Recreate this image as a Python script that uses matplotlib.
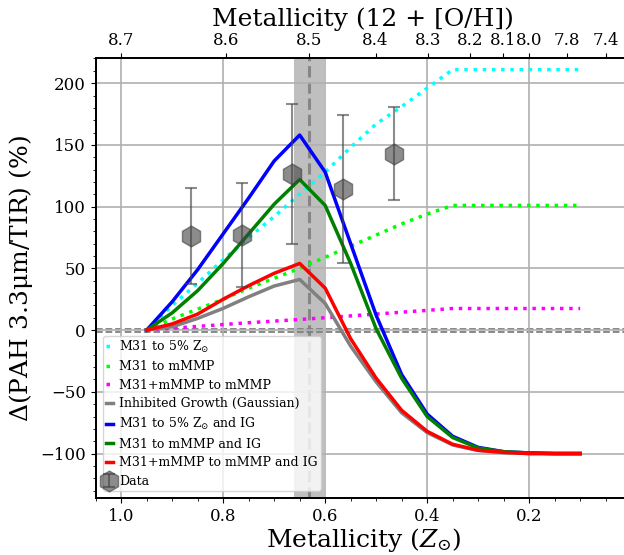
import numpy as np
import matplotlib
matplotlib.use('Agg')
import matplotlib.pyplot as plt
from matplotlib.ticker import MultipleLocator

plt.rcParams['font.family'] = ['DejaVu Serif']
plt.rcParams['mathtext.fontset'] = 'dejavuserif'

# model grid (Z / Z_sun)
z = [0.95, 0.9, 0.85, 0.8, 0.75, 0.7, 0.65, 0.6, 0.55, 0.5, 0.45, 0.4, 0.35,
     0.3, 0.25, 0.2, 0.15, 0.1]

m31_5pct = [0, 20, 38, 57, 75, 92, 110, 128, 148, 167, 181, 196, 211,
            211, 211, 211, 211, 211]
m31_mmmp = [0, 9, 17, 25, 34, 42, 50, 59, 68, 77, 86, 94, 101,
            101, 101, 101, 101, 101]
m31mmmp_mmmp = [0, 1.5, 3, 4.5, 6, 7.3, 8.6, 10, 11.5, 13, 14.5, 16, 17.5,
                17.5, 17.5, 17.5, 17.5, 17.5]
inhibited = [0, 2.7, 9.5, 17.6, 27, 35.7, 41, 21.6, -13, -42, -67, -83, -93,
             -97.5, -99.3, -100, -100, -100]
m31_5pct_ig = [0, 23, 49, 78, 107, 137, 158, 128, 70, 12, -36, -68, -86,
               -95, -98.5, -99.5, -100, -100]
m31_mmmp_ig = [0, 14, 32, 54, 78, 102, 122, 101, 54, 1, -39, -70, -87,
               -95.5, -98.5, -99.5, -100, -100]
m31mmmp_mmmp_ig = [0, 5, 13, 25, 36, 46, 54, 34, -7, -39, -65, -82, -92.5,
                   -97.3, -99, -100, -100, -100]

# measured points
data_z = [0.863, 0.763, 0.665, 0.565, 0.465]
data_y = [76, 77, 126.5, 114, 143]
data_err = [39, 42, 57, 60, 38]

# top axis ticks
oh_ticks = [8.7, 8.6, 8.5, 8.4, 8.3, 8.2, 8.1, 8.0, 7.8, 7.4]
oh_sun = 8.7

fig = plt.figure(figsize=(6.24, 5.55), dpi=100)
ax = fig.add_axes([0.1534, 0.1027, 0.858, 0.7919])

ax.axvspan(10 ** (8.48 - oh_sun), 10 ** (8.52 - oh_sun), color='gray', alpha=0.5, lw=0, zorder=1)
ax.axvline(10 ** (8.5 - oh_sun), color='gray', ls='--', lw=2.2, alpha=0.9, zorder=1)
ax.axhline(0.8, color='gray', ls='--', lw=1.3, zorder=1)
ax.axhline(-1.2, color='gray', ls='--', lw=1.3, zorder=1)

ax.plot(z, m31_5pct, ':', color='cyan', lw=2.5, label='M31 to 5% Z$_{\\odot}$')
ax.plot(z, m31_mmmp, ':', color='lime', lw=2.5, label='M31 to mMMP')
ax.plot(z, m31mmmp_mmmp, ':', color='magenta', lw=2.5, label='M31+mMMP to mMMP')
ax.plot(z, inhibited, '-', color='gray', lw=2.5, label='Inhibited Growth (Gaussian)')
ax.plot(z, m31_5pct_ig, '-', color='blue', lw=2.5, label='M31 to 5% Z$_{\\odot}$ and IG')
ax.plot(z, m31_mmmp_ig, '-', color='green', lw=2.5, label='M31 to mMMP and IG')
ax.plot(z, m31mmmp_mmmp_ig, '-', color='red', lw=2.5, label='M31+mMMP to mMMP and IG')

ax.errorbar(data_z, data_y, yerr=data_err, fmt='h', color='0.25', ms=15, alpha=0.6,
            capsize=4, elinewidth=1.5, capthick=1.5, label='Data', zorder=5)

ax.set_xlim(1.05, 0.0)
ax.set_ylim(-136, 220)
ax.xaxis.set_minor_locator(MultipleLocator(0.05))
ax.yaxis.set_major_locator(MultipleLocator(50))
ax.yaxis.set_minor_locator(MultipleLocator(10))
ax.set_xticks([1.0, 0.8, 0.6, 0.4, 0.2])
ax.set_xticklabels(['1.0', '0.8', '0.6', '0.4', '0.2'])
ax.grid(True, which='major', color='#b0b0b0', lw=1.2)
ax.tick_params(labelsize=12)
ax.set_xlabel('Metallicity ($Z_{\\odot}$)', fontsize=18, labelpad=1)
ax.set_ylabel('$\\Delta$(PAH 3.3μm/TIR) (%)', fontsize=18)

ax.legend(loc='lower left', fontsize=9, handlelength=0.6, handletextpad=0.5,
          labelspacing=0.45, borderpad=0.2, borderaxespad=0.6)

ax2 = ax.twiny()
ax2.set_xlim(ax.get_xlim())
ax2.set_xticks([10 ** (t - oh_sun) for t in oh_ticks])
ax2.set_xticklabels(['%.1f' % t for t in oh_ticks])
ax2.tick_params(labelsize=12)
ax2.set_xlabel('Metallicity (12 + [O/H])', fontsize=18, labelpad=4)

for a in (ax, ax2):
    for s in a.spines.values():
        s.set_linewidth(1.3)

plt.savefig('out.png', dpi=100)
